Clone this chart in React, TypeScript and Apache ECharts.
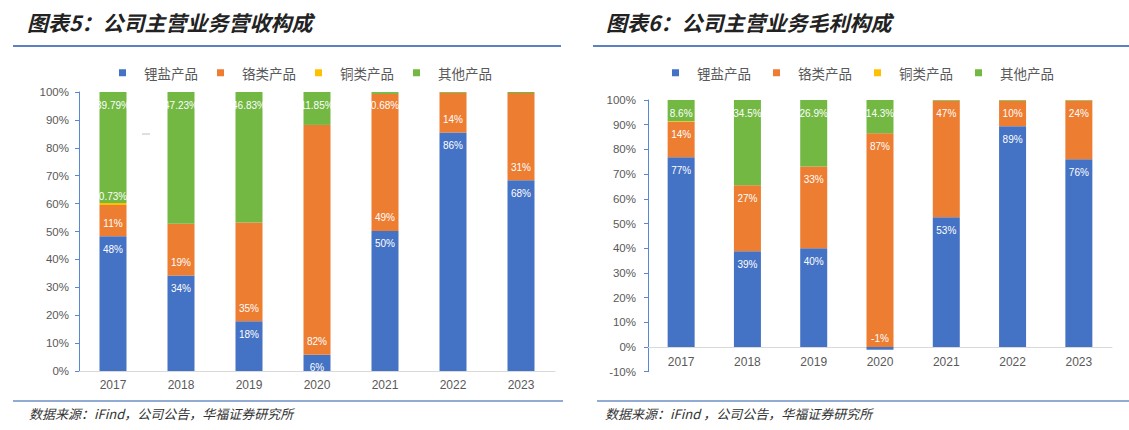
import React, { useEffect, useRef } from "react";
import * as echarts from "echarts";

// ---- data ----
const years = ["2017", "2018", "2019", "2020", "2021", "2022", "2023"];
const seriesNames = ["锂盐产品", "铬类产品", "铜类产品", "其他产品"];

// Chart 5: revenue composition (%)
const revLithium = [48.3, 34.2, 17.8, 5.8, 50.2, 85.5, 68.4];
const revChrome = [11.2, 18.6, 35.4, 82.4, 49.1, 14.2, 31.2];
const revCopper = [0.73, 0, 0, 0, 0, 0, 0];
const revOther = [39.79, 47.23, 46.83, 11.85, 0.68, 0.3, 0.4];

// Chart 6: gross profit composition (%)
const gpLithium = [76.8, 38.8, 40.0, -1.1, 52.5, 89.4, 76.0];
const gpChrome = [14.3, 26.7, 33.1, 86.5, 47.2, 10.3, 23.8];
const gpCopper = [0.3, 0, 0, 0, 0, 0, 0];
const gpOther = [8.6, 34.5, 26.9, 14.3, 0.3, 0.3, 0.2];

const title5 = "图表5：公司主营业务营收构成";
const title6 = "图表6：公司主营业务毛利构成";
const sourceLeft = "数据来源：iFind，公司公告，华福证券研究所";
const sourceRight = "数据来源：iFind ，公司公告，华福证券研究所";

const colors = ["#4472C4", "#ED7D31", "#FFC000", "#72B843"];
const axisGray = "#595959";
const axisBlue = "#5A86D6";
const ruleBlue = "#2459A8";
const cjk = "'Noto Sans CJK SC', 'Noto Sans', sans-serif";
const latin = "'Liberation Sans', Arial, sans-serif";

const fmtInt = (v: number) => `${Math.round(v)}%`;
const fmt2 = (v: number) => `${v.toFixed(2)}%`;
const fmt1 = (v: number) => `${v.toFixed(1)}%`;

function makeSeries(
  values: number[],
  idx: number,
  axis: number,
  stack: string,
  position: string,
  distance: number,
  fmt: (v: number) => string
) {
  return {
    name: seriesNames[idx],
    type: "bar",
    stack,
    xAxisIndex: axis,
    yAxisIndex: axis,
    barWidth: 27,
    itemStyle: { color: colors[idx] },
    label: {
      show: true,
      position,
      distance,
      color: "#ffffff",
      fontSize: 10,
      fontFamily: latin,
      formatter: (p: any) => fmt(p.value),
    },
    data: values.map((v) => ({
      value: v,
      label:
        v < 0
          ? { show: true, position: "top", distance: 4 }
          : { show: Math.abs(v) >= 0.5 },
    })),
  };
}

function axisPair(
  gridIndex: number,
  min: number,
  yMargin: number,
  xMargin: number
) {
  const x = {
    type: "category",
    gridIndex,
    data: years,
    axisLine: { onZero: true, lineStyle: { color: "#D9D9D9", width: 1 } },
    axisTick: { show: false },
    axisLabel: {
      color: axisGray,
      fontSize: 12,
      fontFamily: latin,
      margin: xMargin,
    },
  };
  const y = {
    type: "value",
    gridIndex,
    min,
    max: 100,
    interval: 10,
    axisLine: { show: true, lineStyle: { color: axisBlue, width: 1 } },
    axisTick: { show: true, length: 4, lineStyle: { color: axisBlue } },
    splitLine: { show: false },
    axisLabel: {
      color: axisGray,
      fontSize: 11.5,
      fontFamily: latin,
      margin: yMargin,
      formatter: "{value}%",
    },
  };
  return { x, y };
}

export default function App() {
  const ref = useRef<HTMLDivElement>(null);

  useEffect(() => {
    if (!ref.current) return;
    const chart = echarts.init(ref.current, null, { renderer: "svg" });
    const a0 = axisPair(0, 0, 10, 8);
    const a1 = axisPair(1, -10, 12, -16);

    const legendBase = {
      data: seriesNames,
      icon: "rect",
      itemWidth: 7,
      itemHeight: 7,
      orient: "horizontal",
      textStyle: {
        color: axisGray,
        fontSize: 13.5,
        fontFamily: cjk,
        padding: [0, 0, 0, 13],
      },
      padding: 0,
      selectedMode: false,
    };

    chart.setOption({
      animation: false,
      backgroundColor: "#ffffff",
      title: [
        {
          text: title5,
          left: 27,
          top: 11,
          padding: 0,
          textStyle: {
            fontSize: 21,
            fontWeight: "bold",
            fontStyle: "italic",
            fontFamily: cjk,
            color: "#222222",
          },
        },
        {
          text: title6,
          left: 606,
          top: 11,
          padding: 0,
          textStyle: {
            fontSize: 21,
            fontWeight: "bold",
            fontStyle: "italic",
            fontFamily: cjk,
            color: "#222222",
          },
        },
      ],
      legend: [
        { ...legendBase, left: 119, top: 66, itemGap: 19 },
        { ...legendBase, left: 672, top: 66, itemGap: 22 },
      ],
      grid: [
        { left: 79, top: 92, width: 476, height: 279, containLabel: false },
        { left: 648, top: 100, width: 464, height: 271.7, containLabel: false },
      ],
      xAxis: [a0.x, a1.x],
      yAxis: [a0.y, a1.y],
      series: [
        makeSeries(revLithium, 0, 0, "rev", "insideTop", 8, fmtInt),
        makeSeries(revChrome, 1, 0, "rev", "insideBottom", 8, fmtInt),
        makeSeries(revCopper, 2, 0, "rev", "top", 1, fmt2),
        makeSeries(revOther, 3, 0, "rev", "insideTop", 8, fmt2),
        makeSeries(gpLithium, 0, 1, "gp", "insideTop", 8, fmtInt),
        makeSeries(gpChrome, 1, 1, "gp", "insideTop", 8, fmtInt),
        makeSeries(gpCopper, 2, 1, "gp", "top", 1, fmt1),
        makeSeries(gpOther, 3, 1, "gp", "insideTop", 8, fmt1),
      ],
      graphic: [
        {
          type: "line",
          shape: { x1: 13, y1: 46, x2: 561, y2: 46 },
          style: { stroke: ruleBlue, lineWidth: 1.5 },
        },
        {
          type: "line",
          shape: { x1: 593, y1: 46, x2: 1129, y2: 46 },
          style: { stroke: ruleBlue, lineWidth: 1.5 },
        },
        {
          type: "line",
          shape: { x1: 13, y1: 401, x2: 563, y2: 401 },
          style: { stroke: ruleBlue, lineWidth: 1.2 },
        },
        {
          type: "line",
          shape: { x1: 597, y1: 401, x2: 1129, y2: 401 },
          style: { stroke: ruleBlue, lineWidth: 1.2 },
        },
        {
          type: "line",
          shape: { x1: 142, y1: 134, x2: 150, y2: 134 },
          style: { stroke: "#BFBFBF", lineWidth: 1 },
        },
        {
          type: "text",
          x: 29,
          y: 413,
          style: {
            text: sourceLeft,
            fill: "#333333",
            font: `italic 13px ${cjk}`,
            verticalAlign: "middle",
          },
        },
        {
          type: "text",
          x: 605,
          y: 413,
          style: {
            text: sourceRight,
            fill: "#333333",
            font: `italic 13px ${cjk}`,
            verticalAlign: "middle",
          },
        },
      ],
    });
    return () => chart.dispose();
  }, []);

  return (
    <div
      ref={ref}
      style={{
        position: "fixed",
        left: 0,
        top: 0,
        width: 1129,
        height: 430,
        background: "#ffffff",
      }}
    />
  );
}
